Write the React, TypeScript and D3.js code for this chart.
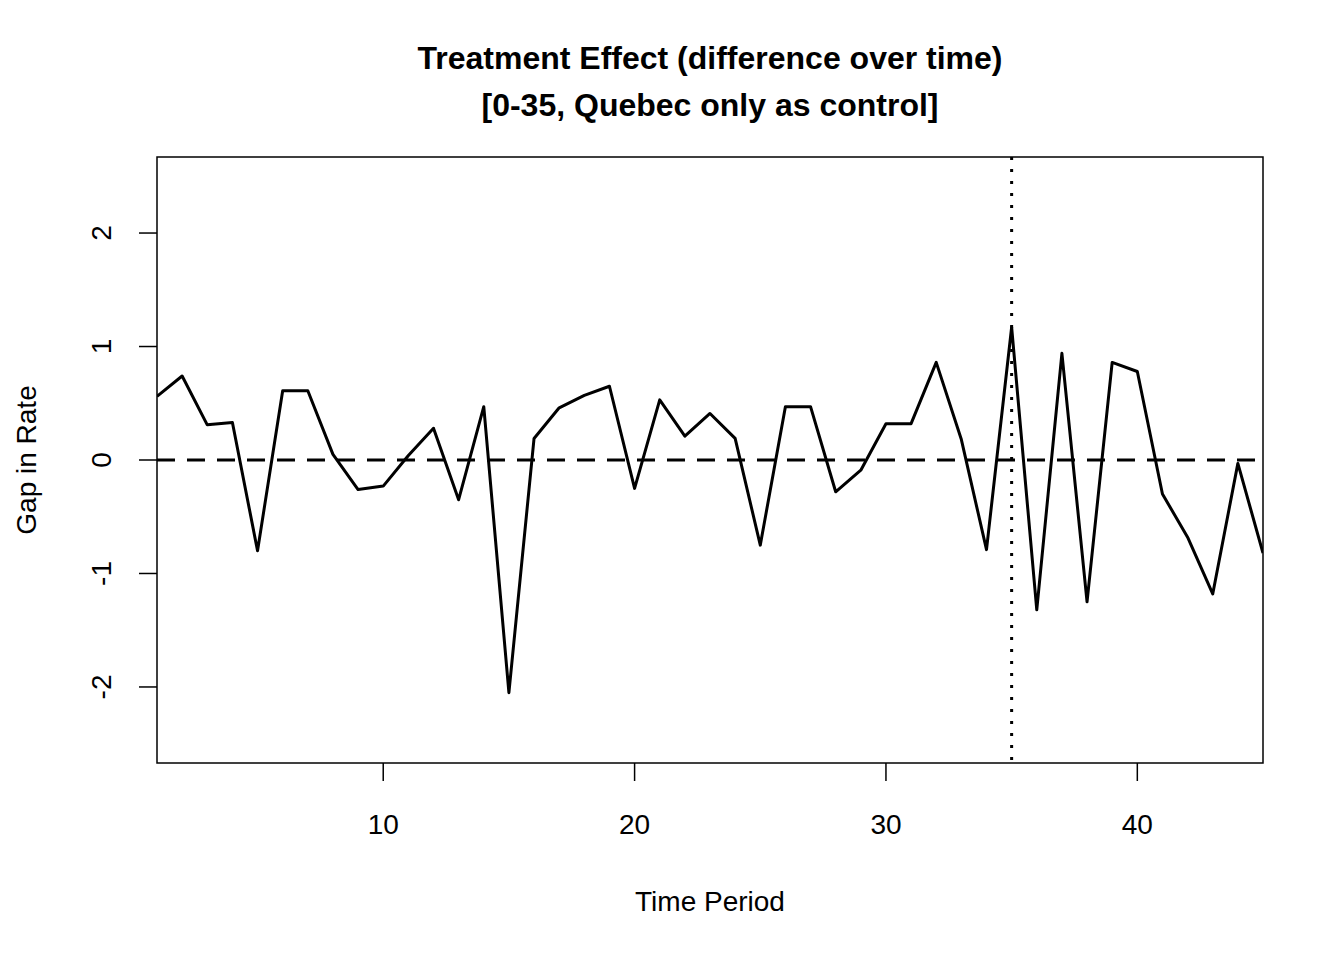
import React from 'react';
import * as d3 from 'd3';

const periods = d3.range(1, 46);
const gap = [
  0.56, 0.74, 0.31, 0.33, -0.8, 0.61, 0.61, 0.05, -0.26, -0.23,
  0.04, 0.28, -0.35, 0.47, -2.05, 0.19, 0.46, 0.57, 0.65, -0.25,
  0.53, 0.21, 0.41, 0.19, -0.75, 0.47, 0.47, -0.28, -0.09, 0.32,
  0.32, 0.86, 0.18, -0.79, 1.17, -1.32, 0.94, -1.25, 0.86, 0.78,
  -0.3, -0.68, -1.18, -0.03, -0.82,
];
const xTicks = [10, 20, 30, 40];
const yTicks = [-2, -1, 0, 1, 2];
const treatmentStart = 35;

const W = 1344, H = 960;
const L = 157, R = 1263, T = 157, B = 763;
const font = 'Liberation Sans, Arial, sans-serif';

export default function App() {
  const x = d3.scaleLinear().domain([1, 45]).range([L, R]);
  const y = d3.scaleLinear().domain([-2.67, 2.67]).range([B, T]);
  const line = d3.line<number>().x((_, i) => x(periods[i])).y(d => y(d));

  return (
    <svg width={W} height={H} style={{ position: 'absolute', left: 0, top: 0, background: '#fff' }} fontFamily={font}>
      <text x={710} y={69} textAnchor="middle" fontSize={32} fontWeight="bold">Treatment Effect (difference over time)</text>
      <text x={710} y={116} textAnchor="middle" fontSize={32} fontWeight="bold">[0-35, Quebec only as control]</text>
      <defs>
        <clipPath id="plot"><rect x={L} y={T} width={R - L} height={B - T} /></clipPath>
      </defs>
      <g clipPath="url(#plot)">
        <line x1={L} x2={R} y1={y(0)} y2={y(0)} stroke="#000" strokeWidth={3} strokeDasharray="18,12" />
        <line x1={x(treatmentStart)} x2={x(treatmentStart)} y1={T} y2={B} stroke="#000" strokeWidth={3} strokeDasharray="3,9" />
        <path d={line(gap) ?? ''} fill="none" stroke="#000" strokeWidth={3} strokeLinejoin="round" />
      </g>
      <rect x={L} y={T} width={R - L} height={B - T} fill="none" stroke="#000" strokeWidth={1.5} />
      {xTicks.map(t => (
        <g key={t}>
          <line x1={x(t)} x2={x(t)} y1={B} y2={B + 18} stroke="#000" strokeWidth={1.5} />
          <text x={x(t)} y={834} textAnchor="middle" fontSize={28}>{t}</text>
        </g>
      ))}
      {yTicks.map(t => (
        <g key={t}>
          <line x1={L - 18} x2={L} y1={y(t)} y2={y(t)} stroke="#000" strokeWidth={1.5} />
          <text transform={`translate(111,${y(t)}) rotate(-90)`} textAnchor="middle" fontSize={28}>{t}</text>
        </g>
      ))}
      <text x={710} y={911} textAnchor="middle" fontSize={28}>Time Period</text>
      <text transform={`translate(36,${(T + B) / 2}) rotate(-90)`} textAnchor="middle" fontSize={28}>Gap in Rate</text>
    </svg>
  );
}
